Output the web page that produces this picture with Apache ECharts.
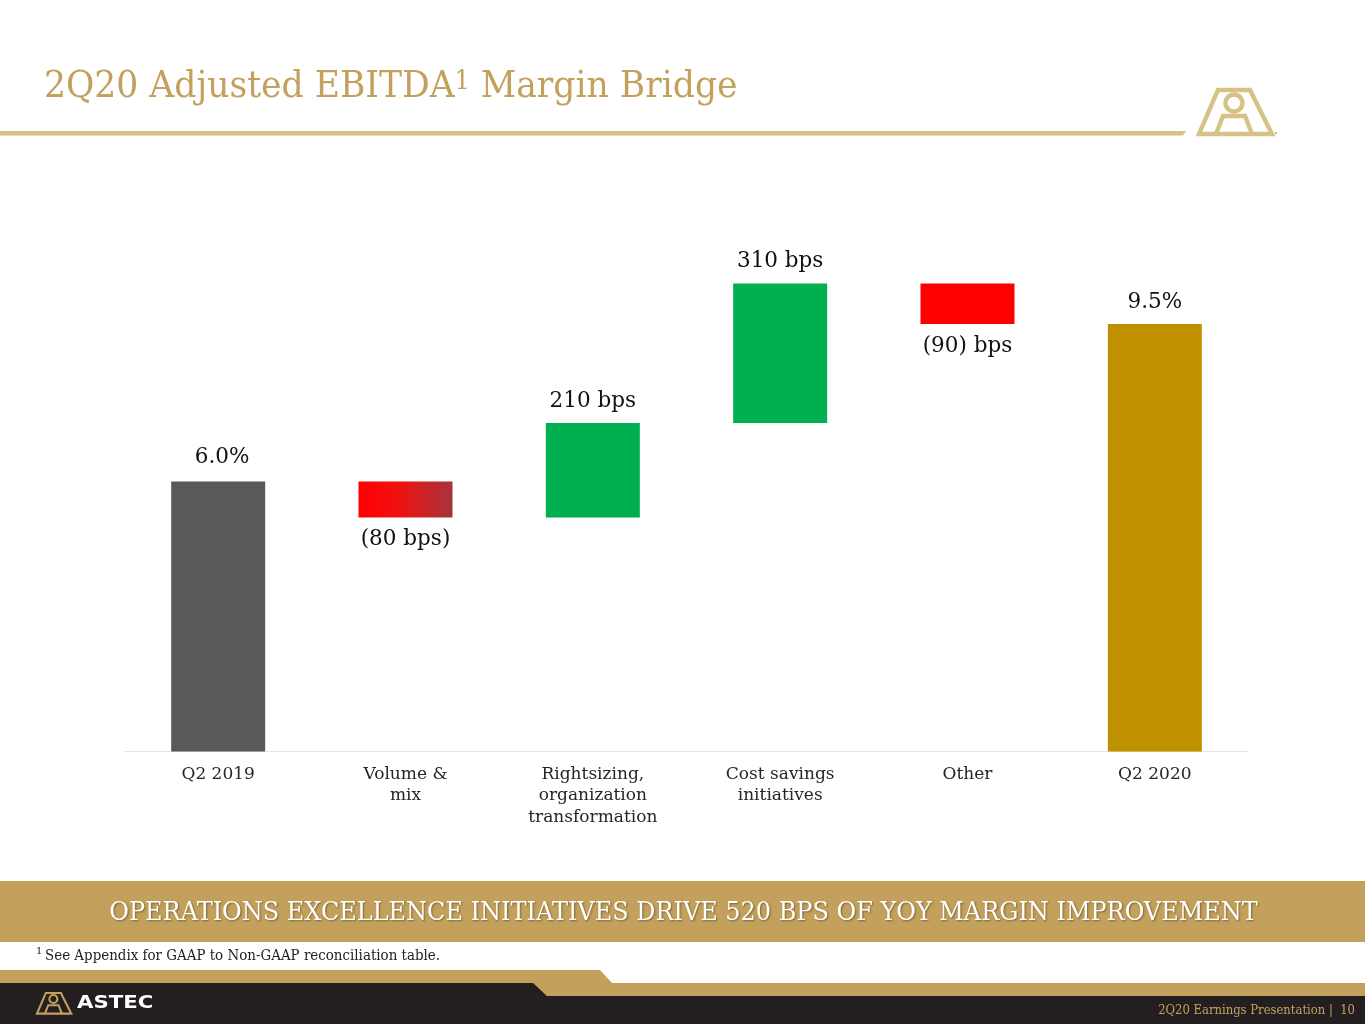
<!DOCTYPE html>
<html>
<head>
<meta charset="utf-8">
<style>
html, body { margin: 0; padding: 0; background: #fff; }
#main { width: 1365px; height: 1024px; }
</style>
<script src="https://cdn.jsdelivr.net/npm/echarts@6/dist/echarts.min.js"></script>
</head>
<body>
<div id="main"></div>
<script>
var categories = ['Q2 2019', 'Volume &\nmix', 'Rightsizing,\norganization\ntransformation', 'Cost savings\ninitiatives', 'Other', 'Q2 2020'];
var baseValues = [0, 5.2, 5.2, 7.3, 9.5, 0];
var barValues = [6.0, 0.8, 2.1, 3.1, 0.9, 9.5];
var barLabels = ['6.0%', '(80 bps)', '210 bps', '310 bps', '(90) bps', '9.5%'];
var labelSides = ['top', 'bottom', 'top', 'top', 'bottom', 'top'];

var GOLD = '#c3a15d';
var LINE_GOLD = '#d6c285';
var DARK = '#231f20';
var SERIF = '"DejaVu Serif", serif';

var barColors = [
    '#595959',
    new echarts.graphic.LinearGradient(0, 0, 1, 0, [
        { offset: 0, color: '#ff0000' },
        { offset: 0.4, color: '#f21010' },
        { offset: 1, color: '#a5353a' }
    ]),
    '#00b050',
    '#00b050',
    '#ff0000',
    '#bf9000'
];

// Astec mark, drawn in a 78 x 48 box
function logo(x, y, scale, color) {
    var width = 4.4;
    return {
        type: 'group',
        x: x,
        y: y,
        scaleX: scale,
        scaleY: scale,
        children: [
            { type: 'polygon', shape: { points: [[21, 2], [53, 2], [75, 46], [2, 46]] }, style: { fill: 'none', stroke: color, lineWidth: width } },
            { type: 'circle', shape: { cx: 37, cy: 15, r: 8.5 }, style: { fill: 'none', stroke: color, lineWidth: width } },
            { type: 'polyline', shape: { points: [[19, 46], [26, 28], [48, 28], [55, 46]] }, style: { fill: 'none', stroke: color, lineWidth: width } }
        ]
    };
}

var decorations = [
    // title
    {
        type: 'text', x: 44, y: 87, scaleX: 0.91,
        style: {
            text: '{a|2Q20 Adjusted EBITDA}{s|1}{a| Margin Bridge}',
            align: 'left',
            verticalAlign: 'middle',
            rich: {
                a: { fontFamily: SERIF, fontSize: 38, fill: GOLD, lineHeight: 50 },
                s: { fontFamily: SERIF, fontSize: 26, fill: GOLD, verticalAlign: 'middle', padding: [0, 0, 10, 0], lineHeight: 30 }
            }
        }
    },
    // header rule
    { type: 'polygon', shape: { points: [[0, 131], [1186, 131], [1183, 135.5], [0, 135.5]] }, style: { fill: LINE_GOLD } },
    logo(1197, 88, 1, LINE_GOLD),
    { type: 'circle', shape: { cx: 1276, cy: 133, r: 1 }, style: { fill: '#9a9ab0' } },
    // banner
    { type: 'rect', shape: { x: 0, y: 881, width: 1365, height: 61 }, style: { fill: GOLD } },
    {
        type: 'text', x: 683.5, y: 913, scaleX: 0.94,
        style: {
            text: 'OPERATIONS EXCELLENCE INITIATIVES DRIVE 520 BPS OF YOY MARGIN IMPROVEMENT',
            fill: '#fff', font: '25.5px ' + SERIF, align: 'center', verticalAlign: 'middle',
            textShadowColor: 'rgba(70,50,10,0.55)', textShadowBlur: 2, textShadowOffsetX: 1, textShadowOffsetY: 1
        }
    },
    // footnote
    { type: 'text', x: 36, y: 951, style: { text: '1', fill: '#222', font: '10px ' + SERIF, align: 'left', verticalAlign: 'middle' } },
    { type: 'text', x: 45, y: 956, scaleX: 0.895, style: { text: 'See Appendix for GAAP to Non-GAAP reconciliation table.', fill: '#222', font: '15px ' + SERIF, align: 'left', verticalAlign: 'middle' } },
    // footer
    { type: 'polygon', shape: { points: [[0, 970], [600, 970], [612, 983], [1365, 983], [1365, 996], [0, 996]] }, style: { fill: GOLD } },
    { type: 'polygon', shape: { points: [[0, 983], [533, 983], [547, 996], [1365, 996], [1365, 1024], [0, 1024]] }, style: { fill: DARK } },
    logo(36, 992, 0.47, GOLD),
    { type: 'text', x: 77, y: 1003.5, scaleX: 1.25, style: { text: 'ASTEC', fill: '#fff', font: 'bold 17px "DejaVu Sans", sans-serif', align: 'left', verticalAlign: 'middle' } },
    { type: 'text', x: 1355, y: 1010, scaleX: 0.86, style: { text: '2Q20 Earnings Presentation |  10', fill: GOLD, font: '13.5px ' + SERIF, align: 'right', verticalAlign: 'middle' } }
];

var myChart = echarts.init(document.getElementById('main'));

var option = {
    animation: false,
    backgroundColor: '#fff',
    grid: { left: 124.5, right: 116.5, top: 211.5, bottom: 272.5 },
    xAxis: {
        type: 'category',
        data: categories,
        axisLine: { lineStyle: { color: '#e3e3e3', width: 1 } },
        axisTick: { show: false },
        axisLabel: {
            interval: 0,
            color: '#262626',
            fontFamily: SERIF,
            fontSize: 17,
            lineHeight: 21.5,
            margin: 12,
            verticalAlign: 'top'
        }
    },
    yAxis: { type: 'value', min: 0, max: 12, show: false },
    series: [
        {
            name: 'base',
            type: 'bar',
            stack: 'bridge',
            barWidth: 94,
            silent: true,
            itemStyle: { color: 'transparent' },
            data: baseValues
        },
        {
            name: 'change',
            type: 'bar',
            stack: 'bridge',
            barWidth: 94,
            data: barValues.map(function (value, i) {
                return {
                    value: value,
                    itemStyle: { color: barColors[i] },
                    label: {
                        show: true,
                        position: labelSides[i],
                        distance: 11,
                        offset: i === 0 ? [4, -2] : [0, 0],
                        formatter: barLabels[i],
                        color: '#111',
                        fontFamily: SERIF,
                        fontSize: 21.5
                    }
                };
            })
        }
    ],
    graphic: { elements: decorations }
};

myChart.setOption(option);
</script>
</body>
</html>
